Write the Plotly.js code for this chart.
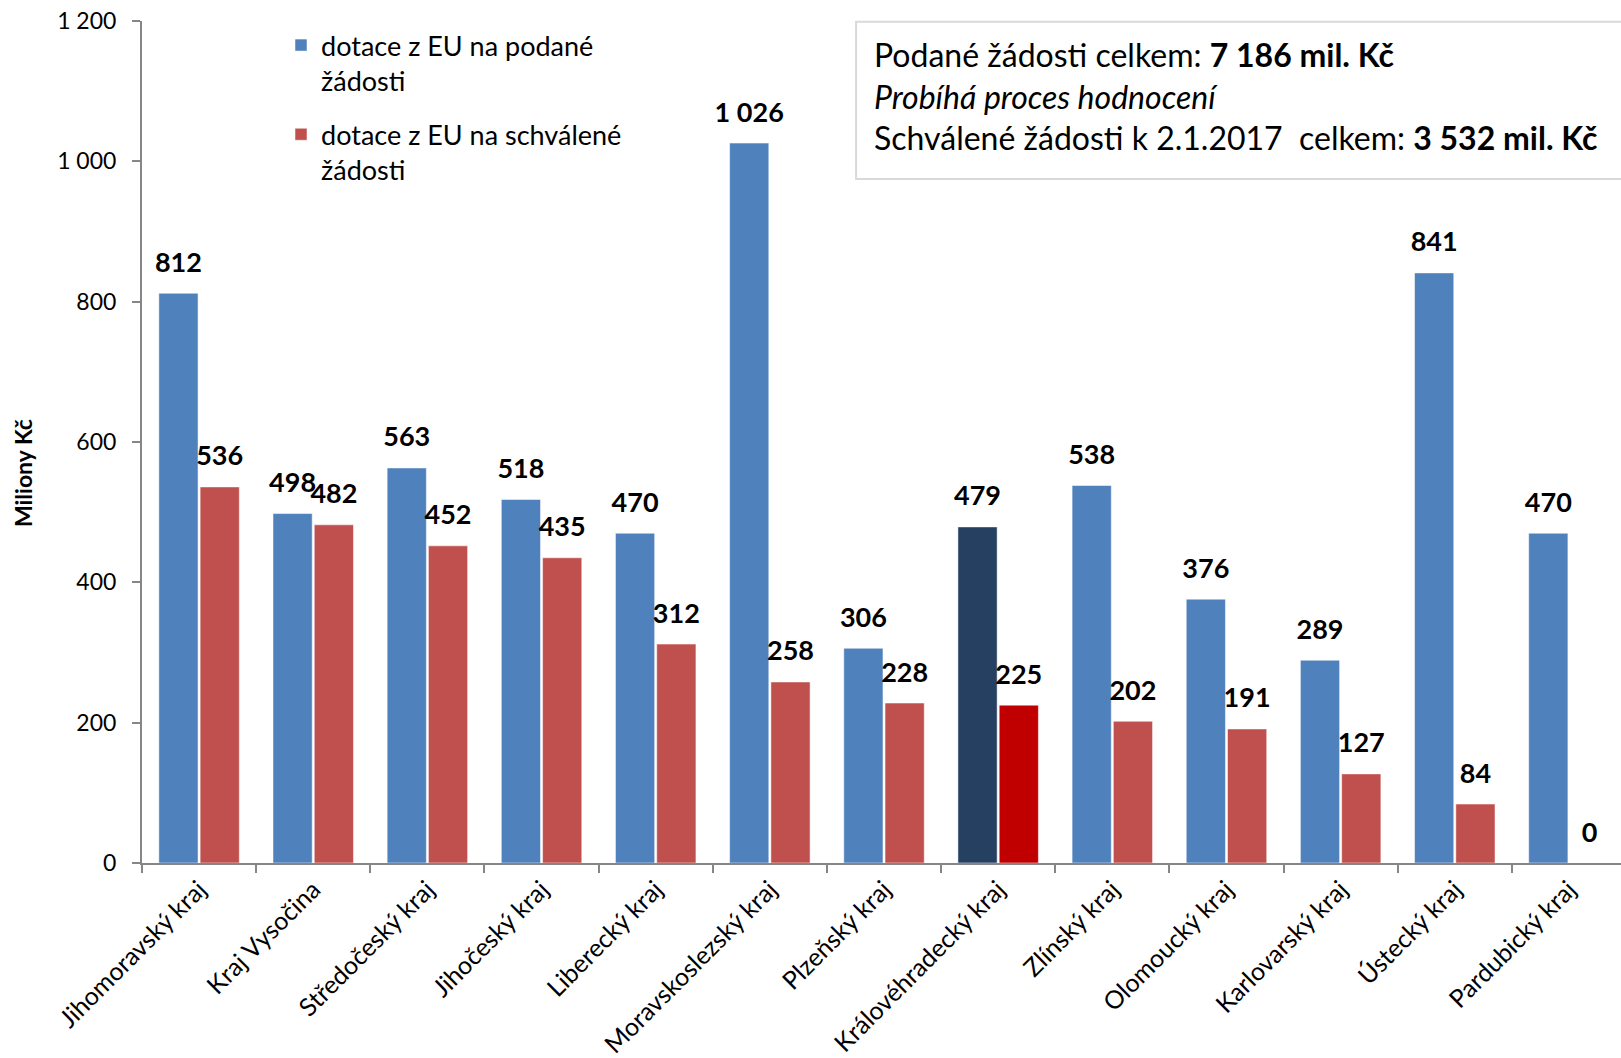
<!DOCTYPE html>
<html>
<head>
<meta charset="utf-8">
<script src="https://cdn.plot.ly/plotly-3.0.1.min.js"></script>
<style>
html, body { margin: 0; padding: 0; background: #ffffff; overflow: hidden; }
#chart { width: 1621px; height: 1058px; }
</style>
</head>
<body>
<div id="chart"></div>
<script>
// ---- data ----
const categories = [
  'Jihomoravský kraj', 'Kraj Vysočina', 'Středočeský kraj', 'Jihočeský kraj',
  'Liberecký kraj', 'Moravskoslezský kraj', 'Plzeňský kraj', 'Královéhradecký kraj',
  'Zlínský kraj', 'Olomoucký kraj', 'Karlovarský kraj', 'Ústecký kraj', 'Pardubický kraj'
];
const podane = [812, 498, 563, 518, 470, 1026, 306, 479, 538, 376, 289, 841, 470];
const schvalene = [536, 482, 452, 435, 312, 258, 228, 225, 202, 191, 127, 84, 0];
const seriesNames = ['dotace z EU na podané<br>žádosti', 'dotace z EU na schválené<br>žádosti'];
const highlighted = 'Královéhradecký kraj';
const yTicks = [0, 200, 400, 600, 800, 1000, 1200];
const yTitle = '<b>Miliony Kč</b>';

const boxLines = [
  'Podané žádosti celkem: <b>7 186 mil. Kč</b>',
  '<i>Probíhá proces hodnocení</i>',
  'Schválené žádosti k 2.1.2017  celkem: <b>3 532 mil. Kč</b>'
];

// ---- styles ----
const FONT = 'Lato, "Open Sans", sans-serif';
const blue = '#4F81BD', blueDark = '#254061';
const red = '#C0504D', redBright = '#C00000';
const axisGray = '#868686';

const blueColors = categories.map(c => c === highlighted ? blueDark : blue);
const redColors = categories.map(c => c === highlighted ? redBright : red);

const labelFont = { family: FONT, size: 27, color: '#000000', weight: 'bold' };
const barLine = { width: 1, color: 'rgba(255,255,255,0.5)' };

function labelTrace(values, group) {
  return {
    type: 'scatter', mode: 'markers+text', x: categories, y: values,
    text: values, texttemplate: '<b>%{y:,}</b>', textposition: 'top center',
    textfont: labelFont, marker: { size: 22, opacity: 0 },
    offsetgroup: group, showlegend: false, cliponaxis: false, hoverinfo: 'skip'
  };
}

const traces = [
  {
    type: 'bar', name: seriesNames[0], x: categories, y: podane,
    marker: { color: blueColors, line: barLine },
    offsetgroup: 'a', legendgroup: 'a', hoverinfo: 'x+y'
  },
  {
    type: 'bar', name: seriesNames[1], x: categories, y: schvalene,
    marker: { color: redColors, line: barLine },
    offsetgroup: 'b', legendgroup: 'b', hoverinfo: 'x+y'
  },
  labelTrace(podane, 'a'),
  labelTrace(schvalene, 'b')
];

const layout = {
  width: 1621, height: 1058,
  margin: { l: 142, r: 0, t: 21, b: 195 },
  paper_bgcolor: '#ffffff', plot_bgcolor: '#ffffff',
  separators: ', ',
  font: { family: FONT, color: '#000000' },
  barmode: 'group', bargap: 0.277, bargroupgap: 0.05,
  scattermode: 'group', scattergap: 0.277,
  showlegend: true,
  legend: {
    x: 0.094, y: 1.0, xanchor: 'left', yanchor: 'top',
    font: { family: FONT, size: 27, color: '#000000' },
    valign: 'top', tracegroupgap: 16, bgcolor: 'rgba(0,0,0,0)',
    traceorder: 'grouped'
  },
  xaxis: {
    type: 'category', range: [-0.5, 12.456], automargin: false,
    showline: true, linecolor: axisGray, linewidth: 2,
    ticks: 'outside', tickson: 'boundaries', ticklen: 8, tickwidth: 2, tickcolor: axisGray,
    tickangle: -45, tickfont: { family: FONT, size: 25, color: '#000000' },
    showgrid: false, zeroline: false, fixedrange: true
  },
  yaxis: {
    range: [0, 1200], tickvals: yTicks, tickformat: ',d', separatethousands: true,
    automargin: false,
    showline: true, linecolor: axisGray, linewidth: 2,
    ticks: 'outside', ticklen: 8, tickwidth: 2, tickcolor: axisGray,
    tickfont: { family: FONT, size: 23, color: '#000000' },
    ticklabelstandoff: 11,
    showgrid: false, zeroline: false, fixedrange: true
  },
  shapes: [
    {
      type: 'rect', xref: 'paper', yref: 'paper',
      x0: 0.4828, x1: 1.02, y0: 0.8124, y1: 0.999,
      line: { color: '#D9D9D9', width: 2 }, fillcolor: '#ffffff', layer: 'below'
    }
  ],
  annotations: [
    {
      xref: 'paper', yref: 'paper', x: 0.4939, y: 0.9863, xanchor: 'left', yanchor: 'top',
      align: 'left', showarrow: false,
      text: boxLines.join('<br>'),
      font: { family: FONT, size: 32, color: '#000000' }
    },
    {
      xref: 'paper', yref: 'paper', x: -0.0805, y: 0.463, xanchor: 'center', yanchor: 'middle',
      textangle: -90, showarrow: false, text: yTitle,
      font: { family: FONT, size: 23, color: '#000000' }
    }
  ]
};

Plotly.newPlot('chart', traces, layout, { displayModeBar: false, staticPlot: true });
</script>
</body>
</html>
